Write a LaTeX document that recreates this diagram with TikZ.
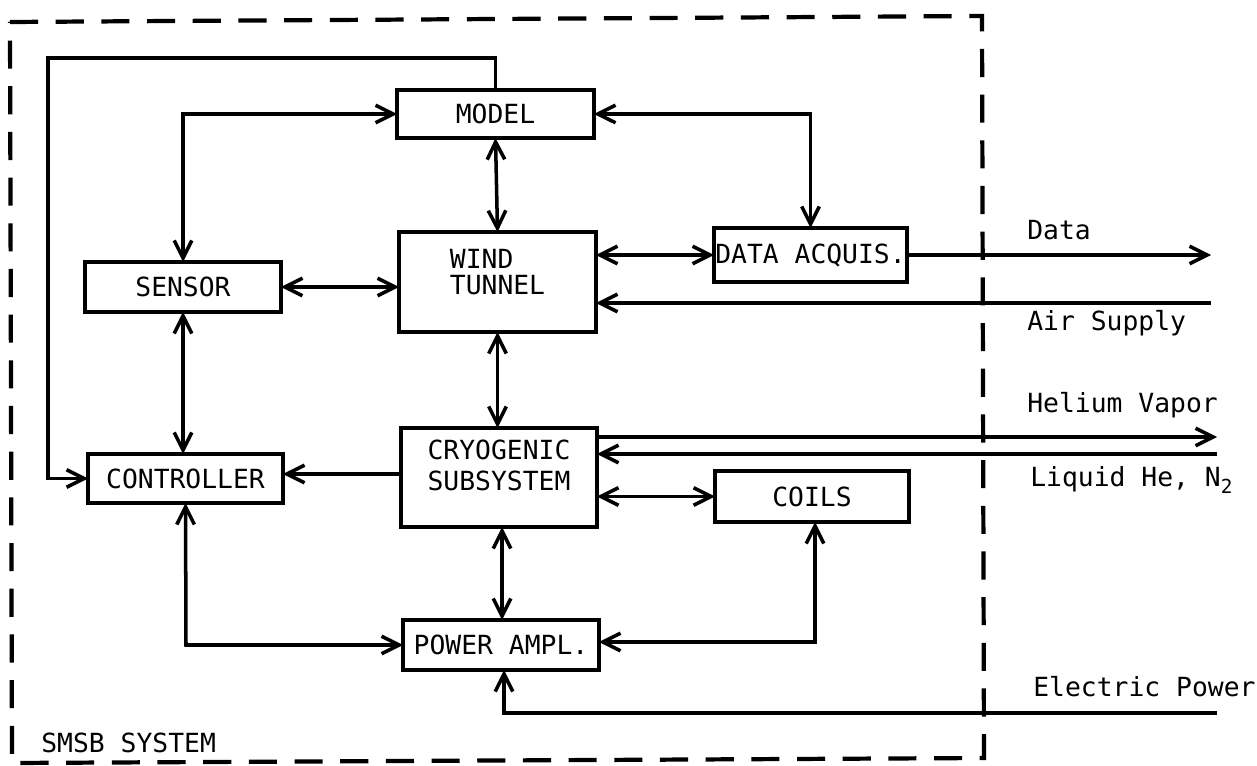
\documentclass[tikz,border=0pt]{standalone}
\usepackage{fontspec}
\setmonofont{DejaVu Sans Mono}
\usetikzlibrary{arrows.meta,calc}
\begin{document}
\begin{tikzpicture}[x=0.02cm,y=-0.02cm,
  blk/.style={draw,line width=2.4pt,inner sep=0pt,outer sep=0pt,align=center,
    font=\ttfamily\fontsize{15}{18}\selectfont},
  conn/.style={line width=2pt},
  tip/.style={-{Straight Barb[length=10pt,width=10pt,line width=2pt]}},
  both/.style={{Straight Barb[length=10pt,width=10pt,line width=2pt]}-{Straight Barb[length=10pt,width=10pt,line width=2pt]}},
  lbl/.style={anchor=west,inner sep=0pt,font=\ttfamily\fontsize{15}{18}\selectfont},
  border/.style={line width=2.4pt,dash pattern=on 16pt off 10pt}]
\useasboundingbox (0,0) rectangle (1257,766);
% system border
\draw[border] (10,22) -- (982,16) -- (984,758) -- (12,763) -- cycle;
\node[lbl] (smsb) at (41,743) {SMSB SYSTEM};
% blocks
\node[blk,minimum width=3.94cm,minimum height=0.96cm] (model) at (495.5,114) {MODEL};
\node[blk,minimum width=3.94cm,minimum height=2.0cm] (wt) at (497.5,282) {\begin{tabular}{@{}l@{}}WIND\\[-3pt]TUNNEL\\[8pt]\end{tabular}};
\node[blk,minimum width=3.92cm,minimum height=1.0cm] (sensor) at (183,287) {SENSOR};
\node[blk,minimum width=3.86cm,minimum height=1.08cm] (daq) at (810.5,255) {DATA ACQUIS.};
\node[blk,minimum width=3.92cm,minimum height=1.98cm] (cryo) at (499,477.5) {CRYOGENIC\\SUBSYSTEM\\[-4pt]};
\node[blk,minimum width=3.9cm,minimum height=0.98cm] (ctrl) at (185.5,478.5) {CONTROLLER};
\node[blk,minimum width=3.88cm,minimum height=1.02cm] (coils) at (812,496.5) {COILS};
\node[blk,minimum width=3.92cm,minimum height=1.0cm] (pa) at (501,645) {POWER AMPL.};
% coordinates
\coordinate (fbtop) at (495.5,58);
\coordinate (fbleft) at (48,58);
\coordinate (dataend) at (1211,255);
\coordinate (airend) at (1211,303);
\coordinate (hvend) at (1217,437);
\coordinate (lqend) at (1217,454);
\coordinate (epend) at (1217,713);
\coordinate (epturn) at (504,713);
\coordinate (cpa) at (186,645);
\coordinate (copa) at (815,642);
% connectors
\draw[conn,both] (model.west) -| (sensor.north);
\draw[conn,both] (model.south) -- (wt.north);
\draw[conn,tip] (model.north) -- (fbtop) -- (fbleft) |- (ctrl.west);
\draw[conn,both] (model.east) -| (daq.north);
\draw[conn,both] (sensor.east) -- (sensor.east -| wt.west);
\draw[conn,both] (daq.west -| wt.east) -- (daq.west);
\draw[conn,tip] (daq.east) -- (dataend);
\draw[conn,tip] (airend) -- (airend -| wt.east);
\draw[conn,both] (sensor.south) -- (ctrl.north -| sensor.south);
\draw[conn,both] (wt.south) -- (cryo.north -| wt.south);
\draw[conn,tip] (cryo.west |- 0,474) -- (ctrl.east |- 0,474);
\draw[conn,tip] (cryo.east |- hvend) -- (hvend);
\draw[conn,tip] (lqend) -- (cryo.east |- lqend);
\draw[conn,both] (cryo.east |- coils.west) -- (coils.west);
\draw[conn,both] (cryo.south -| 502,0) -- (pa.north -| 502,0);
\draw[conn,both] (ctrl.south) -- (cpa) -- (cpa -| pa.west);
\draw[conn,both] (coils.south -| copa) -- (copa) -- (copa -| pa.east);
\draw[conn,tip] (epend) -- (epturn) -- (pa.south -| epturn);
% labels
\node[lbl] (ldata) at (1027,230) {Data};
\node[lbl] (lair) at (1027,323) {Air Supply};
\node[lbl] (lhv) at (1027,405) {Helium Vapor};
\node[lbl] (llq) at (1030,480) {Liquid He, N\raisebox{-4pt}{\fontsize{11}{11}\selectfont 2}};
\node[lbl] (lep) at (1033,687) {Electric Power};
\end{tikzpicture}
\end{document}
